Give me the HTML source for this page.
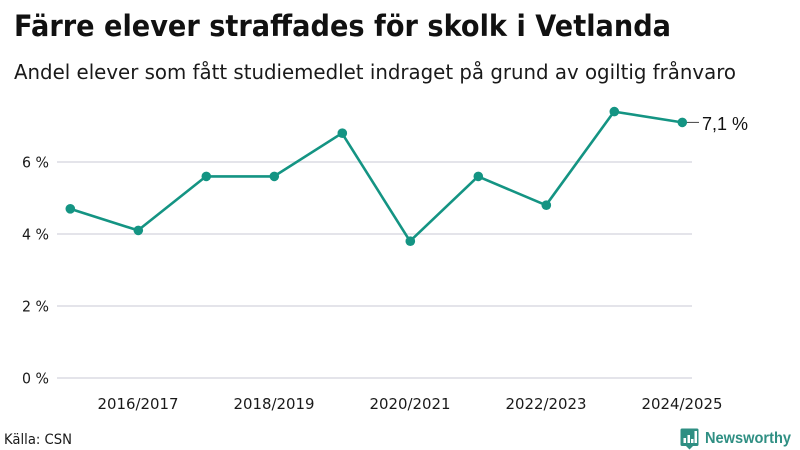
<!DOCTYPE html>
<html lang="sv">
<head>
<meta charset="utf-8">
<title>Färre elever straffades för skolk i Vetlanda</title>
<style>
html,body{margin:0;padding:0;background:#fff;width:800px;height:450px;overflow:hidden}
svg{display:block}
text{font-family:"DejaVu Sans","Liberation Sans",sans-serif;fill:#1a1a1a}
</style>
</head>
<body>
<svg id="chart" width="800" height="450" viewBox="0 0 800 450" xmlns="http://www.w3.org/2000/svg">
  <text x="14" y="36" font-size="29" font-weight="700" style="fill:#111" textLength="657" lengthAdjust="spacingAndGlyphs">Färre elever straffades för skolk i Vetlanda</text>
  <text x="14" y="79" font-size="20" textLength="722" lengthAdjust="spacingAndGlyphs">Andel elever som fått studiemedlet indraget på grund av ogiltig frånvaro</text>
  <g id="grid"></g>
  <g id="yticks"></g>
  <g id="xticks"></g>
  <g id="series"></g>
  <text x="4" y="444" font-size="14" textLength="68" lengthAdjust="spacingAndGlyphs">Källa: CSN</text>
  <g>
    <path d="M682 428.500h15a1.500 1.500 0 0 1 1.500 1.500v14.500a1.500 1.500 0 0 1-1.500 1.500h-4l-3.500 3.500-3.500-3.500h-4a1.500 1.500 0 0 1-1.500-1.500v-14.500a1.500 1.500 0 0 1 1.500-1.500z" fill="#2f8f83"/>
    <rect x="683.500" y="438" width="2.500" height="5" fill="#fff"/>
    <rect x="687.500" y="435" width="2.500" height="8" fill="#fff"/>
    <rect x="691" y="439" width="2.500" height="4" fill="#fff"/>
    <rect x="694.500" y="431" width="2.500" height="12" fill="#fff"/>
    <text x="705" y="443" font-size="16" font-weight="700" style="font-family:'Liberation Sans',sans-serif;fill:#2f8f83" textLength="86" lengthAdjust="spacingAndGlyphs">Newsworthy</text>
  </g>
</svg>
<script>
const categories = ["2015/2016","2016/2017","2017/2018","2018/2019","2019/2020","2020/2021","2021/2022","2022/2023","2023/2024","2024/2025"];
const seriesValues = [4.7,4.1,5.6,5.6,6.8,3.8,5.6,4.8,7.4,7.1];
const yTicks = [0,2,4,6];
const xTickLabels = ["2016/2017","2018/2019","2020/2021","2022/2023","2024/2025"];
const lastValueLabel = "7,1 %";

const NS = "http://www.w3.org/2000/svg";
const plot = {left:70, step:68, bottom:378, unit:36, gridLeft:57, gridRight:692};
const xScale = function(i){ return plot.left + i * plot.step; };
const yScale = function(v){ return plot.bottom - v * plot.unit; };
function make(tag, attrs, parent){
  const el = document.createElementNS(NS, tag);
  Object.keys(attrs).forEach(function(k){ el.setAttribute(k, attrs[k]); });
  parent.appendChild(el);
  return el;
}
const grid = document.getElementById("grid");
const yAxis = document.getElementById("yticks");
const xAxis = document.getElementById("xticks");
const series = document.getElementById("series");

yTicks.forEach(function(t){
  const line = make("line", {x1:plot.gridLeft, x2:plot.gridRight, y1:yScale(t), y2:yScale(t), stroke:"#e4e4ea", "stroke-width":2}, grid);
  
  
  const label = make("text", {x:49, y:yScale(t)+5.500, "text-anchor":"end", "font-size":15, textLength:27, lengthAdjust:"spacingAndGlyphs"}, yAxis);
  
  
  label.textContent = t + " %";
});

xTickLabels.forEach(function(name){
  const label = make("text", {x:xScale(categories.indexOf(name)), y:409, "text-anchor":"middle", "font-size":15, textLength:81, lengthAdjust:"spacingAndGlyphs"}, xAxis);
  
  
  label.textContent = name;
});

const points = seriesValues.map(function(v,i){ return xScale(i) + "," + yScale(v); }).join(" ");
const path = make("polyline", {points:points, fill:"none", stroke:"#149483", "stroke-width":2.600, "stroke-linejoin":"round"}, series);



seriesValues.forEach(function(v,i){
  const dot = make("circle", {cx:xScale(i)+0.300, cy:yScale(v), r:4.800, fill:"#149483"}, series);
  
  
});

const lastIndex = seriesValues.length - 1;
const lastX = xScale(lastIndex);
const lastY = yScale(seriesValues[lastIndex]);
const leader = make("line", {x1:lastX+5, x2:lastX+17, y1:lastY, y2:lastY, stroke:"#444", "stroke-width":1}, series);


const valueLabel = make("text", {x:lastX+20, y:lastY+7.500, "font-size":18, style:'font-family:"Liberation Sans",sans-serif;fill:#111'}, series);


valueLabel.textContent = lastValueLabel;
</script>
</body>
</html>
